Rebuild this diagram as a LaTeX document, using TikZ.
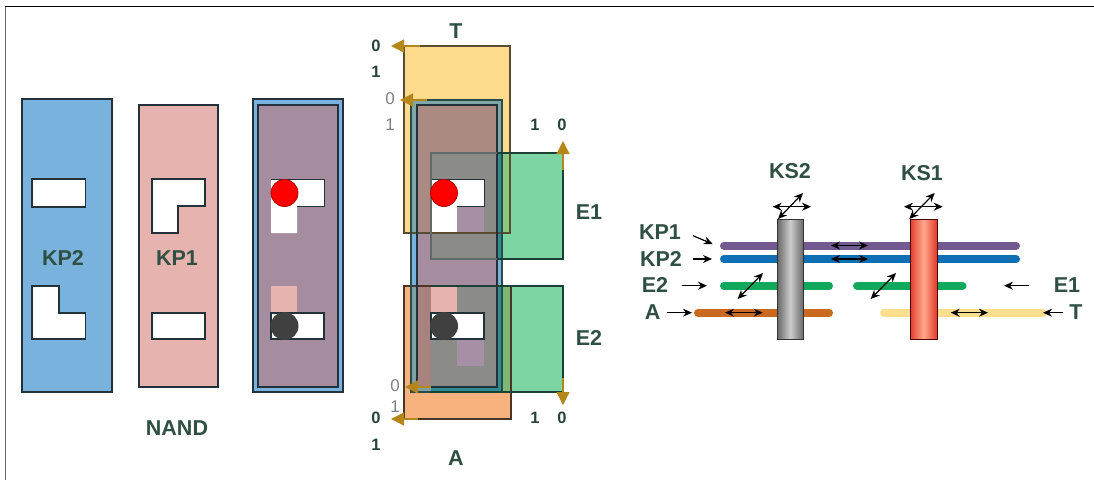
\documentclass[tikz,border=0pt]{standalone}
\usepackage{fontspec}
\setmainfont{Liberation Sans}
\usetikzlibrary{arrows.meta}
\definecolor{txt}{HTML}{2F4F42}
\definecolor{blu}{HTML}{7AB2DE}
\definecolor{pnk}{HTML}{E6B3AE}
\definecolor{mauv}{HTML}{A58C9E}
\definecolor{yel}{HTML}{FEDA8C}
\definecolor{org}{HTML}{F8B27E}
\definecolor{grn}{HTML}{7DD5A3}
\definecolor{edge}{HTML}{23323A}
\definecolor{gold}{HTML}{B5861A}
\definecolor{grnyel}{HTML}{8CC77F}
\definecolor{grnorg}{HTML}{7FB872}
\definecolor{bluyel}{HTML}{7FA8A8}
\definecolor{bluorg}{HTML}{7FA0A5}
\definecolor{teal1}{HTML}{2F8C90}
\definecolor{mauyel}{HTML}{A98B82}
\definecolor{mauorg}{HTML}{A8827F}
\definecolor{greyz}{HTML}{8B8B87}
\definecolor{greyl}{HTML}{626A68}
\definecolor{mausq}{HTML}{A78FA5}
\definecolor{edgeb}{HTML}{2C4A48}
\definecolor{edgeg}{HTML}{1B4034}
\definecolor{barp}{HTML}{72598F}
\definecolor{barb}{HTML}{0F6FB5}
\definecolor{barg}{HTML}{12A85C}
\definecolor{baro}{HTML}{C96A20}
\definecolor{bary}{HTML}{FBDF8E}
\definecolor{redo}{HTML}{E23B2A}
\definecolor{redi}{HTML}{FFA98C}
\tikzset{
  x=1pt,y=-1pt,
  lab/.style={font=\bfseries\fontsize{21.5}{21.5}\selectfont,text=txt,inner sep=0pt},
  bit/.style={font=\bfseries\fontsize{16.5}{16.5}\selectfont,text=txt!85!black,inner sep=0pt},
  gbit/.style={font=\fontsize{17}{17}\selectfont,text=black!50,inner sep=0pt},
  panel/.style={draw=edge,line width=1.3pt},
  win/.style={draw=edge,line width=1.2pt,fill=white},
  goldarrow/.style={draw=gold,line width=1.2pt,-{Triangle[length=13pt,width=13pt]}},
  bar/.style={line width=8pt,line cap=round},
  sa/.style={black,line width=1.2pt,-{Stealth[length=9pt,width=8pt]}},
  da/.style={black,line width=1.2pt,{Stealth[length=9pt,width=8pt]}-{Stealth[length=9pt,width=8pt]}},
}
\newcommand{\patch}[5]{\fill[#1] (#2,#3) rectangle (#4,#5);}
\begin{document}
\begin{tikzpicture}
\useasboundingbox (0,0) rectangle (1094,480);
\fill[white] (0,0) rectangle (1094,480);
% frame
\draw[black!60,line width=1.6pt] (5.5,6.5) -- (5.5,480);
\draw[black,line width=1.4pt] (5,6.5) -- (1094,6.5);
% KP2
\draw[panel,fill=blu] (22,99) rectangle (112,392);
\draw[win] (32,179) rectangle (85.5,207);
\draw[win] (32,286) -- (59,286) -- (59,313) -- (85.5,313) -- (85.5,339) -- (32,339) -- cycle;
\node[lab] (kp2l) at (63,258) {KP2};
% KP1
\draw[panel,fill=pnk] (139,105) rectangle (218,387);
\draw[win] (152,179) -- (205,179) -- (205,206) -- (178,206) -- (178,233) -- (152,233) -- cycle;
\draw[win] (152,313) rectangle (205,339);
\node[lab] (kp1l) at (177,258) {KP1};
\node[lab] (nand) at (177,428) {NAND};
% composite
\draw[panel,fill=blu] (253,99) rectangle (343,392);
\draw[draw=edge,line width=1.4pt,fill=mauv] (258,105) rectangle (338,387);
\fill[white] (271,179) -- (324,179) -- (324,206) -- (297,206) -- (297,233) -- (271,233) -- cycle;
\draw[edge,line width=1pt] (271,179) -- (324,179) -- (324,206) -- (297,206);
\patch{pnk}{271}{286}{297}{313}
\draw[win] (271,313) rectangle (324,339);
\node[circle,fill=red,draw=red!70!black,line width=.8pt,minimum size=27pt,inner sep=0pt] (redc1) at (284.5,193) {};
\node[circle,fill=black!75,minimum size=28pt,inner sep=0pt] (darkc1) at (284.5,326) {};
% centre: base layers
\patch{yel}{404}{46}{510}{233}
\patch{org}{404}{286}{511}{419}
\patch{grn}{431}{153}{563}{259}
\patch{grn}{431}{286}{563}{392}
\patch{grnyel}{502}{153}{510}{233}
\patch{grnorg}{502}{286}{511}{392}
% blue frame
\patch{blu}{411}{100}{502}{392}
\patch{bluyel}{411}{100}{502}{233}
\patch{bluorg}{411}{286}{502}{392}
\patch{teal1}{497}{153}{502}{259}
\patch{teal1}{497}{286}{502}{392}
\patch{teal1}{431}{387}{502}{392}
% mauve panel
\patch{mauv}{417}{105}{497}{387}
\patch{mauyel}{417}{105}{497}{233}
\patch{mauorg}{417}{286}{431}{387}
\patch{greyz}{431}{153}{497}{259}
\patch{greyz}{431}{286}{497}{387}
% windows
\fill[white] (431,179) -- (484,179) -- (484,206) -- (457,206) -- (457,233) -- (431,233) -- cycle;
\patch{mausq}{457}{206}{484}{233}
\patch{pnk}{431}{286}{457}{313}
\patch{mausq}{457}{339}{484}{366}
\draw[win] (431,313) rectangle (484,339);
\draw[edge,line width=1pt] (431,179) -- (484,179) -- (484,206) -- (457,206);
% outlines
\draw[draw=black!65!yel,line width=1.2pt] (404,46) rectangle (510,233);
\draw[draw=black!70!org,line width=1.2pt] (404,286) rectangle (511,419);
\draw[draw=edgeb,line width=1.2pt] (411,100) rectangle (502,392);
\draw[draw=edge,line width=1.4pt] (417,105) rectangle (497,387);
\draw[draw=greyl,line width=1.1pt] (497,153) -- (431,153) -- (431,259) -- (497,259);
\draw[draw=edgeg,line width=1.1pt] (497,153) -- (563,153) -- (563,259) -- (497,259);
\draw[draw=edgeg,line width=1.1pt] (431,286) -- (563,286) -- (563,392) -- (431,392);
\node[circle,fill=red,draw=red!70!black,line width=.8pt,minimum size=27pt,inner sep=0pt] (redc2) at (444,193) {};
\node[circle,fill=black!75,minimum size=28pt,inner sep=0pt] (darkc2) at (444,326) {};
% gold arrows
\coordinate (ga1s) at (420,46); \coordinate (ga1e) at (391,46);
\coordinate (ga2s) at (427,100); \coordinate (ga2e) at (400,100);
\coordinate (ga3s) at (563,170); \coordinate (ga3e) at (563,141);
\coordinate (ga4s) at (563,378); \coordinate (ga4e) at (563,405);
\coordinate (ga5s) at (431,387); \coordinate (ga5e) at (405,387);
\coordinate (ga6s) at (418,419); \coordinate (ga6e) at (391,419);
\foreach \i in {1,...,6} {\draw[goldarrow] (ga\i s) -- (ga\i e);}
% centre labels
\node[lab] (tl) at (456,31) {T};
\node[lab] (al) at (456,458) {A};
\node[lab] (e1l) at (589,212) {E1};
\node[lab] (e2l) at (589,338) {E2};
\node[bit] (b1) at (376,46) {0};
\node[bit] (b2) at (376,72) {1};
\node[gbit] (g1) at (390,99) {0};
\node[gbit] (g2) at (390,125) {1};
\node[bit] (b3) at (535,125) {1};
\node[bit] (b4) at (562,125) {0};
\node[bit] (b5) at (535,418) {1};
\node[bit] (b6) at (562,418) {0};
\node[gbit] (g3) at (395,386) {0};
\node[gbit] (g4) at (395,407) {1};
\node[bit] (b7) at (376,418) {0};
\node[bit] (b8) at (376,445) {1};
% transistor bars
\draw[bar,barp] (724,245.5) -- (1016,245.5);
\draw[bar,barb] (724,259) -- (1016,259);
\draw[bar,barg] (724,285.7) -- (829,285.7);
\draw[bar,barg] (857,285.7) -- (962.5,285.7);
\draw[bar,baro] (698,312.7) -- (829,312.7);
\draw[bar,bary] (884,312.7) -- (1043,312.7);
% gates
\shade[left color=black!60,right color=black!60,middle color=black!20] (777,219) rectangle (803.7,339);
\draw[black!80,line width=.8pt] (777,219) rectangle (803.7,339);
\shade[left color=redo,right color=redo,middle color=redi] (910,219) rectangle (937,339);
\draw[black!70!red,line width=.8pt] (910,219) rectangle (937,339);
% labels right
\node[lab] (ks2) at (790,171) {KS2};
\node[lab] (ks1) at (922,173) {KS1};
\node[lab] (rkp1) at (660,231.7) {KP1};
\node[lab] (rkp2) at (661,258.5) {KP2};
\node[lab] (re2) at (655,285) {E2};
\node[lab] (ra) at (652.7,312) {A};
\node[lab] (re1) at (1067,285) {E1};
\node[lab] (rt) at (1076,312) {T};
% small arrows
\draw[da] (772.7,206.7) -- (811,206.7);
\draw[da] (778,219) -- (803,193);
\draw[da] (904,206.7) -- (942.7,206.7);
\draw[da] (909.3,219) -- (934.7,193);
\draw[sa] (693,235.7) -- (712.7,244);
\draw[sa] (693,259) -- (712,259);
\draw[sa] (681.7,285.7) -- (707,285.7);
\draw[sa] (666.7,312.7) -- (692,312.7);
\draw[da] (725,312.7) -- (762.7,312.7);
\draw[da] (831,245.5) -- (868,245.5);
\draw[da] (831,259) -- (868,259);
\draw[da] (737.7,299) -- (763,273);
\draw[da] (870.7,299) -- (896,273);
\draw[da] (950.7,312.7) -- (988,312.7);
\draw[sa] (1029,285.7) -- (1004,285.7);
\draw[sa] (1063,312.7) -- (1043,312.7);
\end{tikzpicture}
\end{document}
